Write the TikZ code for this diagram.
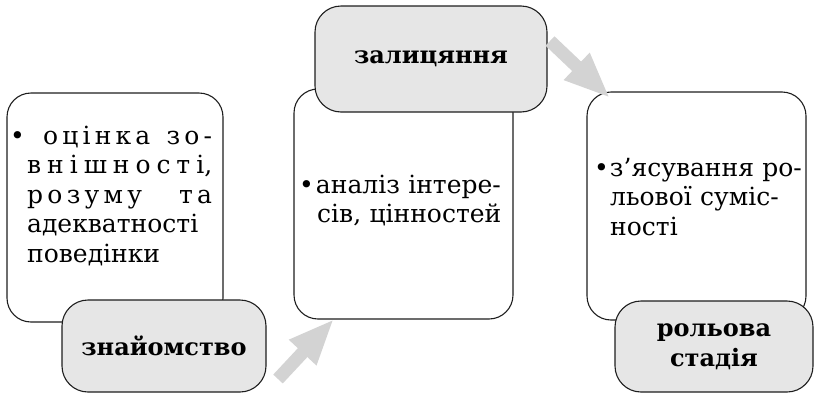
\documentclass[tikz,border=0pt]{standalone}
\usepackage{fontspec}
\setmainfont{DejaVu Serif}
\usetikzlibrary{arrows.meta}
\definecolor{ink}{HTML}{1E1E1E}
\definecolor{stagegray}{HTML}{E6E6E6}
\definecolor{arrowgray}{HTML}{D3D3D3}
\tikzset{
  notebox/.style={draw=ink,fill=white,line width=1.1pt,rounded corners=24pt,inner sep=0pt},
  stagebox/.style={draw=ink,fill=stagegray,line width=1.1pt,rounded corners=26pt,inner sep=0pt,align=center,font=\fontsize{24}{30}\selectfont\bfseries},
  notetext/.style={inner sep=0pt,anchor=base west,text width=230pt,align=left,font=\fontsize{25}{29.5}\selectfont},
  flowarrow/.style={arrowgray,line width=13pt,-{Triangle[length=46pt,width=34pt]}}
}
\begin{document}
\begin{tikzpicture}[x=1pt,y=-1pt]
\useasboundingbox (0,0) rectangle (814,394);
% stage 1
\node[notebox,minimum width=216pt,minimum height=229pt] (n1) at (115,207.5) {};
\node[stagebox,minimum width=204pt,minimum height=92pt] (s1) at (164,346) {знайомство};
\node[notetext] (t1) at (10,144) {\makebox[202pt][s]{•\hspace{14pt plus 1fil}о\hfil ц\hfil і\hfil н\hfil к\hfil а\hspace{8pt plus 2fil}з\hfil о\hfil -}\\
\hspace*{17pt}\makebox[185pt][s]{в\hfil н\hfil і\hfil ш\hfil н\hfil о\hfil с\hfil т\hfil і,}\\
\hspace*{17pt}\makebox[185pt][s]{р\hfil о\hfil з\hfil у\hfil м\hfil у\hspace{20pt plus 4fil}т\hfil а}\\
\hspace*{17pt}адекватності\\
\hspace*{17pt}поведінки};
% stage 2
\node[notebox,minimum width=219pt,minimum height=230pt] (n2) at (403.5,204) {};
\node[stagebox,minimum width=232pt,minimum height=106pt] (s2) at (431,59) {залицяння};
\node[notetext] (t2) at (299,193) {\makebox[207pt][s]{•\hspace{2pt}аналіз інтере-}\\
\hspace*{18pt}сів, цінностей};
% stage 3
\node[notebox,minimum width=219pt,minimum height=228pt] (n3) at (696.5,206) {};
\node[stagebox,minimum width=198pt,minimum height=91pt] (s3) at (714,346.5) {рольова\\стадія};
\node[notetext] (t3) at (594,176) {\makebox[205pt][s]{•\hspace{1pt}з’ясування ро-}\\
\hspace*{16pt}\makebox[189pt][s]{льової суміс-}\\
\hspace*{16pt}ності};
% arrows
\coordinate (a1) at (278,379);
\coordinate (b1) at (334,319);
\coordinate (a2) at (550,41);
\coordinate (b2) at (610,98);
\foreach \a/\b in {a1/b1,a2/b2}{\draw[flowarrow] (\a)--(\b);}
\end{tikzpicture}
\end{document}
